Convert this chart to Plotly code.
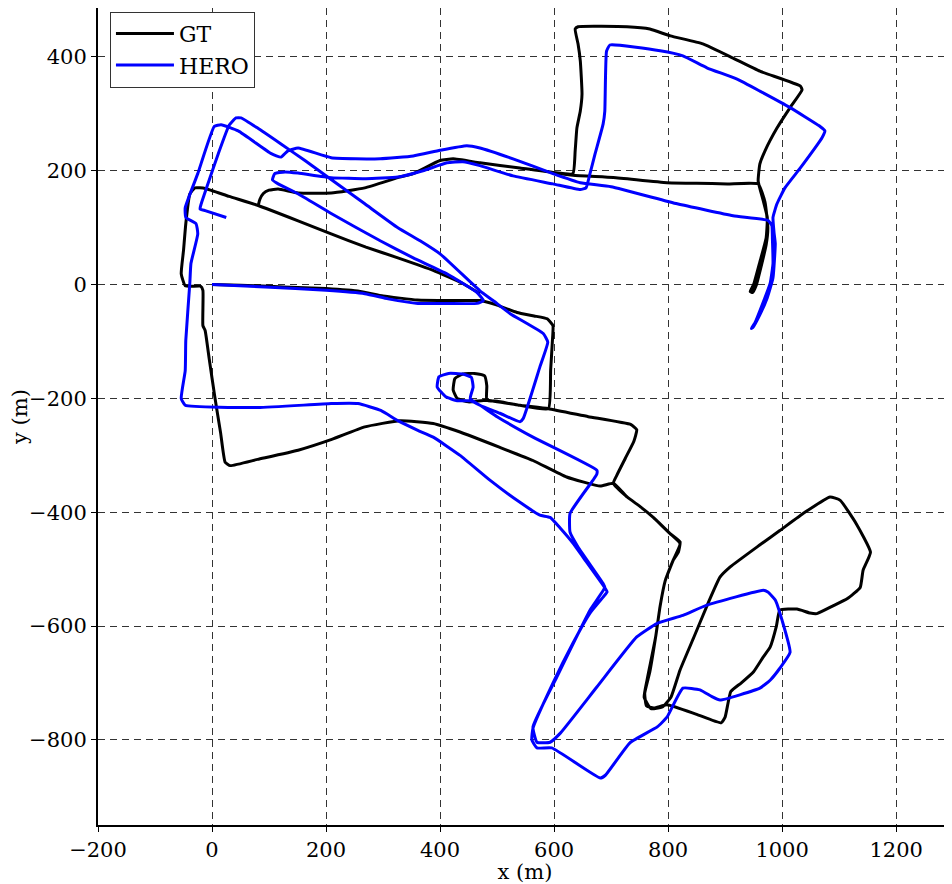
import plotly.graph_objects as go

# Ground truth trajectory (m); None separates two stretches
gt_x = [0, 50, 100, 150, 200, 260, 300, 360, 420, 470,
        500, 535, 565, 588, 598, 597, 594, 590,
        540, 500, 482, 482, 478, 460, 440, 426, 423, 430, 450, 482,
        540, 590, 660, 735, 745, 740, 725, 710, 704,
        728, 751, 774, 803, 821, 818, 809, 795, 786, 778, 768, 759, 762, 775, 798,
        850, 893, 900, 910, 928, 950, 967, 979, 990, 996, 1026, 1049, 1061, 1090, 1114, 1137, 1142, 1155,
        1130, 1102, 1084, 1040, 996, 960, 909, 891, 870, 845, 821, 805, 790, 770, 758, 763, 778, 786, 795,
        809, 821, 803, 774, 751, 728, 704,
        681, 622, 563, 505, 435, 388, 330, 268, 210, 151, 80, 32, 23, 15, 5, -5, -12, -16, -16, -20, -47,
        -54, -50, -46, -39, -30, -12, 30, 81, 151, 209, 270, 326, 388, 440, 470,
        None,
        81, 84, 90, 100, 116, 151, 209, 268, 326, 353, 400, 423, 470, 540, 598, 633,
        637, 640, 646, 649, 646, 642, 637, 642, 728, 768, 804, 861, 914, 961, 1032, 1035,
        1014, 991, 970, 961, 958, 967, 974, 972, 961, 950, 944, 948, 955, 964, 972, 975, 970, 958,
        904, 850, 798, 704, 633, 598]
gt_y = [0, -1, -3, -5, -7, -12, -20, -27, -28, -28,
        -36, -49, -55, -60, -72, -100, -150, -218,
        -212, -205, -203, -178, -160, -156, -157, -165, -185, -200, -206, -203,
        -212, -218, -232, -246, -255, -275, -305, -335, -349,
        -373, -390, -409, -437, -452, -470, -484, -520, -565, -620, -680, -718, -740, -744, -738,
        -755, -770, -760, -715, -700, -680, -654, -637, -600, -572, -570, -577, -578, -564, -552, -532, -502, -470,
        -420, -379, -373, -400, -432, -458, -496, -514, -560, -620, -677, -725, -742, -745, -725, -695, -620, -565, -520,
        -484, -455, -437, -409, -390, -373, -349,
        -354, -338, -309, -286, -259, -244, -239, -250, -272, -291, -307, -318, -312, -260, -198, -130, -81, -72, -10, -3, -2,
        19, 60, 107, 159, 170, 169, 155, 139, 112, 89, 66, 47, 25, 2, -16,
        None,
        139, 150, 160, 166, 168, 161, 161, 170, 188, 195, 218, 221, 214, 205, 197, 195,
        235, 275, 305, 335, 393, 423, 449, 453, 453, 449, 437, 423, 398, 375, 349, 342,
        311, 275, 235, 212, 182, 147, 118, 82, 40, 0, -12, -14, 0, 35, 70, 100, 145, 177,
        177, 178, 179, 188, 192, 197]

# HERO estimated trajectory (m)
hero_x = [0, 93, 200, 268, 309, 361, 412, 465, 476, 465, 412, 353, 295, 209, 150, 116, 106, 110, 128,
          151, 209, 270, 326, 370, 412, 440, 470, 528, 598, 646, 656, 663, 672, 686, 689, 692, 698,
          786, 826, 868, 921, 961, 1014, 1065, 1075, 1070, 1032, 1005, 991, 984, 986, 988, 984, 974,
          960, 949, 946, 952, 961, 979, 984, 983, 982, 975, 914, 816, 700, 646, 598, 528, 470, 447,
          400, 353, 295, 209, 151, 133, 121, 104, 46, 16, 4, -25, -47, -46, -28, -25, -37, -39, -46,
          -47, -54, -47, 81, 209, 256, 296, 326, 361, 388, 435, 488, 535, 575, 593, 611, 633, 651,
          686, 693, 686, 663, 633, 598, 563, 561, 570, 596, 681, 690, 733, 781, 798, 826, 856, 877,
          891, 961, 979, 996, 1014, 1000, 988, 975, 967, 868, 826, 781, 745, 675, 611, 593, 570, 563,
          605, 663, 689, 686, 642, 628, 628, 668, 675, 675, 563, 500, 470, 453, 430, 410, 395, 398,
          415, 440, 455, 458, 453, 470, 505, 540, 546, 575, 589, 581, 523, 493, 470, 400, 365, 326,
          268, 163, 121, 80, 51, 42, 30, 11, -19, -21, -12, 25]
hero_y = [0, -4, -10, -16, -25, -33, -33, -33, -28, -14, 19, 47, 77, 125, 160, 177, 184, 195, 198,
          196, 188, 186, 189, 200, 214, 216, 209, 191, 177, 167, 170, 195, 230, 282, 305, 410, 421,
          411, 402, 381, 361, 340, 311, 279, 270, 258, 205, 170, 142, 118, 90, 72, 12, -23,
          -55, -75, -77, -68, -46, 2, 37, 80, 104, 113, 121, 142, 172, 179, 195, 221, 240, 244,
          236, 226, 221, 223, 240, 235, 224, 230, 270, 281, 278, 195, 135, 118, 107, 89, 37, 2, -98,
          -151, -200, -212, -216, -209, -209, -221, -239, -256, -268, -300, -344, -379, -405, -409, -428, -454, -479,
          -528, -540, -549, -577, -630, -700, -779, -800, -814, -814, -867, -862, -805, -777, -760, -709, -712, -724,
          -730, -709, -695, -674, -646, -590, -554, -540, -537, -563, -581, -595, -619, -707, -788, -804, -804, -777,
          -689, -572, -532, -525, -461, -435, -402, -344, -333, -326, -268, -232, -212, -204, -204, -197, -180, -162,
          -156, -157, -163, -180, -200, -212, -226, -241, -235, -145, -101, -86, -51, -28, -11, 54, 77, 100,
          142, 218, 247, 275, 293, 293, 280, 230, 142, 133, 130, 118]

series_names = ["GT", "HERO"]
series_colors = ["black", "blue"]
x_ticks = [-200, 0, 200, 400, 600, 800, 1000, 1200]
y_ticks = [-800, -600, -400, -200, 0, 200, 400]

FONT = "DejaVu Serif"

fig = go.Figure()
fig.add_trace(go.Scatter(x=gt_x, y=gt_y, mode="lines", name=series_names[0],
                         line=dict(color=series_colors[0], width=3, shape="spline", smoothing=0.4),
                         connectgaps=False))
fig.add_trace(go.Scatter(x=hero_x, y=hero_y, mode="lines", name=series_names[1],
                         line=dict(color=series_colors[1], width=3, shape="spline", smoothing=0.4),
                         connectgaps=False))

grid = dict(showgrid=True, gridcolor="#333333", gridwidth=1, griddash="7px,5px",
            zeroline=False, showline=True, linecolor="black", linewidth=2, mirror=False,
            ticks="outside", ticklen=5, tickwidth=1, tickcolor="black", automargin=False,
            tickfont=dict(family=FONT, size=21, color="black"))

# the page body adds an 8px offset, so the figure is sized to fit the window
fig.update_layout(
    width=944, height=876,
    margin=dict(l=90, r=0, t=0, b=59),
    paper_bgcolor="white", plot_bgcolor="white",
    font=dict(family=FONT, size=21, color="black"),
    xaxis=dict(range=[-200, 1298], tickvals=x_ticks,
               title=dict(text="x (m)", font=dict(family=FONT, size=21), standoff=2), **grid),
    yaxis=dict(range=[-949.4, 486], tickvals=y_ticks,
               title=dict(text="y (m)", font=dict(family=FONT, size=21), standoff=4), **grid),
    legend=dict(x=0.014, y=0.9955, xanchor="left", yanchor="top",
                bgcolor="white", bordercolor="#333333", borderwidth=1,
                itemwidth=58, font=dict(family=FONT, size=22), tracegroupgap=0),
    showlegend=True,
)

fig.write_html("out.html")
